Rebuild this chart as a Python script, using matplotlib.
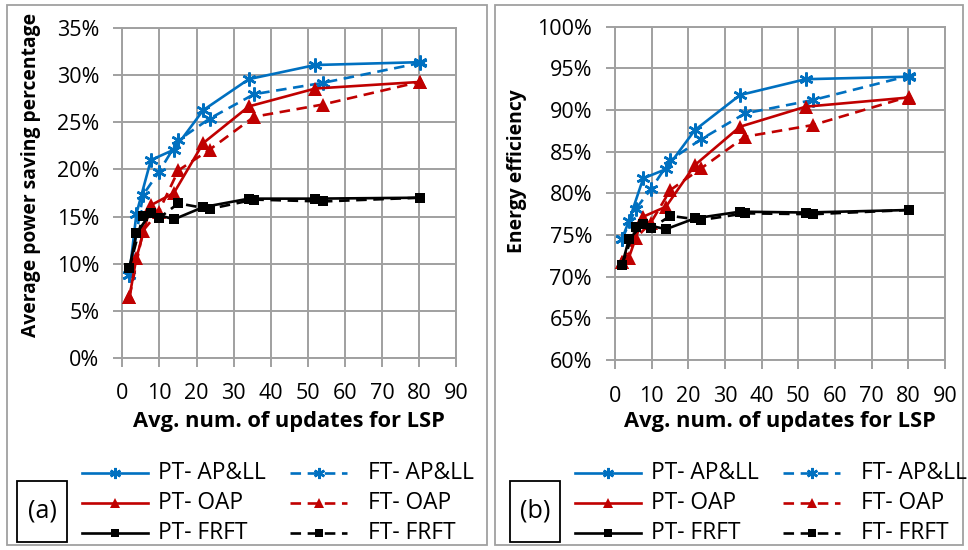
import matplotlib
matplotlib.use("Agg")
import matplotlib.pyplot as plt
from matplotlib.lines import Line2D
from matplotlib.patches import Rectangle
from matplotlib.ticker import FuncFormatter, MultipleLocator

plt.rcParams['font.family'] = ['Open Sans', 'DejaVu Sans']

# Average number of LSP updates for the two timer schemes
pt_updates = [1.9, 3.8, 7.7, 13.9, 21.8, 34.1, 52.0, 80.1]
ft_updates = [1.9, 5.6, 9.8, 15.1, 23.5, 35.5, 54.0, 80.1]

# (a) Average power saving percentage
saving_pt_apll = [8.8, 15.3, 21.0, 22.1, 26.3, 29.6, 31.1, 31.4]
saving_ft_apll = [8.8, 17.3, 19.7, 23.1, 25.4, 28.0, 29.2, 31.3]
saving_pt_oap = [6.4, 10.6, 16.2, 17.5, 22.8, 26.7, 28.6, 29.3]
saving_ft_oap = [6.4, 13.5, 15.5, 19.9, 22.1, 25.6, 26.9, 29.3]
saving_pt_frft = [9.5, 13.2, 15.4, 14.7, 16.0, 16.9, 16.9, 17.0]
saving_ft_frft = [9.5, 15.1, 14.8, 16.4, 15.8, 16.8, 16.6, 17.0]

# (b) Energy efficiency
eff_pt_apll = [74.5, 76.7, 81.8, 82.9, 87.6, 91.8, 93.7, 94.0]
eff_ft_apll = [74.5, 78.1, 80.5, 84.0, 86.5, 89.6, 91.2, 94.1]
eff_pt_oap = [71.8, 72.3, 77.2, 78.4, 83.4, 88.0, 90.4, 91.5]
eff_ft_oap = [71.8, 74.6, 76.5, 80.4, 83.0, 86.8, 88.2, 91.6]
eff_pt_frft = [71.4, 74.5, 76.3, 75.7, 77.0, 77.8, 77.7, 78.0]
eff_ft_frft = [71.4, 76.0, 75.8, 77.3, 76.8, 77.6, 77.5, 78.0]

series_names = ["PT- AP&LL", "FT- AP&LL", "PT- OAP", "FT- OAP", "PT- FRFT", "FT- FRFT"]
x_label = "Avg. num. of updates for LSP"

BLUE = "#0070C0"
RED = "#C00000"
BLACK = "#000000"
GRID = "#A0A0A0"
FRAME = "#A0A0A0"
ASTER = (6, 2, 0)

W, H = 968, 550
fig = plt.figure(figsize=(W / 100, H / 100), dpi=100)
renderer = fig.canvas.get_renderer()


def fx(px):
    return px / W


def fy(py):
    return 1 - py / H


def size_for_width(text, width_px, weight="normal"):
    """Font size at which `text` spans `width_px` pixels."""
    probe = fig.text(0, 0, text, fontsize=10, fontweight=weight)
    w = probe.get_window_extent(renderer).width
    probe.remove()
    return 10 * width_px / w


TICK_FS = size_for_width("100%", 55)
LEGEND_FS = size_for_width("PT- AP&LL", 108)
XLABEL_FS = size_for_width(x_label, 312, "bold")
YLABEL_FS = size_for_width("Average power saving percentage", 324, "bold")

DASH = (0, (4, 2.5))
styles = [
    dict(color=BLUE, marker=ASTER, ms=10, mew=1.8, ls="-"),
    dict(color=BLUE, marker=ASTER, ms=10, mew=1.8, ls=DASH),
    dict(color=RED, marker="^", ms=9.5, mew=0, ls="-"),
    dict(color=RED, marker="^", ms=9.5, mew=0, ls=DASH),
    dict(color=BLACK, marker="s", ms=7.5, mew=0, ls="-"),
    dict(color=BLACK, marker="s", ms=7.5, mew=0, ls=DASH),
]


def panel(left, right, top, bottom, ylo, yhi, ylabel, ylab_xy, data, tag,
          frame_x0, frame_x1, leg_x0):
    ax = fig.add_axes([fx(left), fy(bottom), fx(right) - fx(left), fy(top) - fy(bottom)])
    xs_list = [pt_updates, ft_updates] * 3
    for xs, ys, st in zip(xs_list, data, styles):
        ax.plot(xs, ys, color=st["color"], marker=st["marker"], ms=st["ms"],
                mew=st["mew"], mec=st["color"], ls=st["ls"], lw=1.9, zorder=3,
                clip_on=False)
    ax.set_xlim(0, 90)
    ax.set_ylim(ylo, yhi)
    ax.xaxis.set_major_locator(MultipleLocator(10))
    ax.yaxis.set_major_locator(MultipleLocator(5))
    ax.yaxis.set_major_formatter(FuncFormatter(lambda v, p: f"{v:.0f}%"))
    ax.grid(True, color=GRID, lw=1.4)
    ax.set_axisbelow(True)
    for s in ax.spines.values():
        s.set_color(GRID)
        s.set_linewidth(1.4)
    ax.tick_params(axis="both", colors=GRID, length=6.5, width=1.4, labelcolor="black",
                   labelsize=TICK_FS)
    ax.tick_params(axis="y", pad=10)
    ax.tick_params(axis="x", pad=12)

    ax.set_ylabel(ylabel, fontsize=YLABEL_FS, fontweight="bold")
    ax.yaxis.set_label_coords(fx(ylab_xy[0]), fy(ylab_xy[1]), transform=fig.transFigure)
    ax.yaxis.label.set_va("center")
    ax.set_xlabel(x_label, fontsize=XLABEL_FS, fontweight="bold")
    ax.xaxis.set_label_coords(fx((left + right) / 2), fy(421), transform=fig.transFigure)
    ax.xaxis.label.set_va("center")

    # panel frame
    fig.add_artist(Rectangle((fx(frame_x0), fy(545)), fx(frame_x1) - fx(frame_x0),
                             fy(5) - fy(545), fill=False, ec=FRAME, lw=1.3,
                             transform=fig.transFigure))
    # tag box
    bx0 = leg_x0 - 65
    fig.add_artist(Rectangle((fx(bx0), fy(542)), fx(50), fy(481) - fy(542), fill=False,
                             ec="black", lw=1.3, transform=fig.transFigure))
    fig.text(fx(bx0 + 25), fy(511), tag, ha="center", va="center", fontsize=LEGEND_FS * 1.1)

    # legend
    rows = [473, 503, 533]
    for i, st in enumerate(styles):
        col, row = i % 2, i // 2
        y = fy(rows[row])
        if col == 0:
            x0, x1, tx = leg_x0, leg_x0 + 66, leg_x0 + 76
        else:
            x0, x1, tx = leg_x0 + 208, leg_x0 + 265, leg_x0 + 286
        fig.add_artist(Line2D([fx(x0), fx(x1)], [y, y], color=st["color"], ls=st["ls"],
                              lw=1.9, transform=fig.transFigure))
        fig.add_artist(Line2D([fx((x0 + x1) / 2)], [y], color=st["color"], marker=st["marker"],
                              ms=st["ms"] * 0.8, mew=st["mew"], mec=st["color"], ls="none",
                              transform=fig.transFigure))
        fig.text(fx(tx), y, series_names[i], ha="left", va="center", fontsize=LEGEND_FS)
    return ax


panel(122.3, 456.3, 28.3, 357.7, 0, 35, "Average power saving percentage", (31, 175),
      [saving_pt_apll, saving_ft_apll, saving_pt_oap, saving_ft_oap, saving_pt_frft, saving_ft_frft],
      "(a)", 7, 487, 82)
panel(615, 945, 26.7, 360, 60, 100, "Energy efficiency", (517, 171),
      [eff_pt_apll, eff_ft_apll, eff_pt_oap, eff_ft_oap, eff_pt_frft, eff_ft_frft],
      "(b)", 495, 963, 575)

fig.savefig("out.png", dpi=100)
